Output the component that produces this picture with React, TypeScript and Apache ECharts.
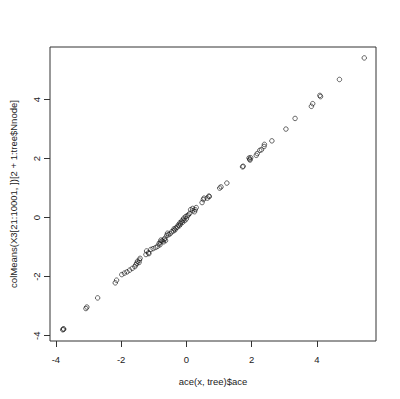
import React, { useEffect, useRef } from "react";
import * as echarts from "echarts";

const xTicks = [-4, -2, 0, 2, 4];
const yTicks = [-4, -2, 0, 2, 4];
const xTitle = "ace(x, tree)$ace";
const yTitle = "colMeans(X3[21:10001, ])[2 + 1:tree$Nnode]";

const aceValues = [
  -3.79, -3.77, -3.76, -3.08, -3.05, -2.72, -2.18, -2.14,
  -1.98, -1.9, -1.82, -1.74, -1.66, -1.58, -1.55, -1.52, -1.5, -1.44, -1.42, -1.45,
  -1.24, -1.22, -1.16, -1.15, -1.09, -1.02, -0.94, -0.88, -0.81,
  -0.84, -0.8, -0.78, -0.74, -0.7, -0.68, -0.66, -0.64,
  -0.6, -0.58, -0.55, -0.5, -0.45, -0.4, -0.38, -0.35,
  -0.32, -0.28, -0.25, -0.22, -0.2, -0.18, -0.15, -0.12, -0.1,
  -0.08, -0.05, -0.02, 0.0, 0.03, 0.06, 0.1,
  0.13, 0.19, 0.19, 0.27, 0.3, 0.25,
  0.48, 0.52, 0.54, 0.64, 0.69, 0.7,
  1.02, 1.06, 1.24, 1.74, 1.72,
  1.92, 1.94, 1.97, 1.95, 2.14, 2.17, 2.3, 2.25, 2.38, 2.39, 2.62,
  3.05, 3.33, 3.83, 3.87, 4.09, 4.11, 4.69, 5.45,
];
const meanValues = [
  -3.8, -3.77, -3.78, -3.08, -3.03, -2.72, -2.21, -2.12,
  -1.93, -1.88, -1.84, -1.78, -1.72, -1.66, -1.6, -1.55, -1.48, -1.44, -1.38, -1.52,
  -1.25, -1.13, -1.19, -1.22, -1.08, -1.05, -1.01, -0.97, -0.92,
  -0.88, -0.83, -0.76, -0.79, -0.82, -0.74, -0.7, -0.78,
  -0.6, -0.53, -0.58, -0.55, -0.48, -0.45, -0.38, -0.42,
  -0.35, -0.32, -0.25, -0.28, -0.18, -0.22, -0.12, -0.16, -0.08,
  -0.02, -0.1, 0.04, -0.04, 0.06, 0.09, 0.14,
  0.27, 0.23, 0.31, 0.27, 0.34, 0.2,
  0.51, 0.61, 0.66, 0.66, 0.73, 0.71,
  1.0, 1.04, 1.17, 1.74, 1.72,
  2.02, 1.98, 2.03, 1.95, 2.11, 2.17, 2.3, 2.28, 2.41, 2.48, 2.6,
  3.0, 3.36, 3.77, 3.86, 4.14, 4.1, 4.68, 5.41,
];

const FONT = "Liberation Sans, Arial, sans-serif";
const TXT = "#222";

export default function App() {
  const ref = useRef<HTMLDivElement>(null);
  useEffect(() => {
    document.body.style.margin = "0";
    const chart = echarts.init(ref.current!, null, { renderer: "svg" });
    const pts = aceValues.map((v, i) => [v, meanValues[i]]);
    chart.setOption({
      animation: false,
      backgroundColor: "#fff",
      textStyle: { fontFamily: FONT },
      grid: {
        left: 46,
        top: 47,
        right: 24,
        bottom: 58,
        show: true,
        borderColor: "#333",
        borderWidth: 1,
        backgroundColor: "transparent",
      },
      xAxis: {
        type: "value",
        position: "bottom",
        min: -4.18,
        max: 5.81,
        splitLine: { show: false },
        axisLine: { show: false, onZero: false },
        axisTick: {
          show: true,
          customValues: xTicks,
          length: 6,
          inside: false,
          lineStyle: { color: "#333", width: 1 },
        },
        axisLabel: {
          customValues: xTicks,
          margin: 13,
          fontSize: 9.5,
          color: TXT,
          fontFamily: FONT,
          showMinLabel: true,
          showMaxLabel: true,
        },
        name: xTitle,
        nameLocation: "middle",
        nameGap: 35,
        nameTextStyle: { fontSize: 9.5, color: TXT, fontFamily: FONT },
      },
      yAxis: {
        type: "value",
        position: "left",
        min: -4.18,
        max: 5.78,
        splitLine: { show: false },
        axisLine: { show: false, onZero: false },
        axisTick: {
          show: true,
          customValues: yTicks,
          length: 6,
          inside: false,
          lineStyle: { color: "#333", width: 1 },
        },
        axisLabel: {
          customValues: yTicks,
          rotate: 90,
          margin: 9,
          fontSize: 9.5,
          color: TXT,
          fontFamily: FONT,
          align: "center",
          verticalAlign: "bottom",
        },
        name: yTitle,
        nameLocation: "middle",
        nameGap: 32,
        nameRotate: 90,
        nameTextStyle: { fontSize: 9.5, color: TXT, fontFamily: FONT },
      },
      series: [
        {
          type: "scatter",
          data: pts,
          symbol: "circle",
          symbolSize: 4.5,
          itemStyle: {
            color: "rgba(0,0,0,0)",
            borderColor: "#111",
            borderWidth: 0.8,
          },
          emphasis: { disabled: true },
        },
      ],
    });
    return () => chart.dispose();
  }, []);
  return (
    <div
      ref={ref}
      style={{ position: "absolute", left: 0, top: 0, width: 400, height: 399 }}
    />
  );
}
